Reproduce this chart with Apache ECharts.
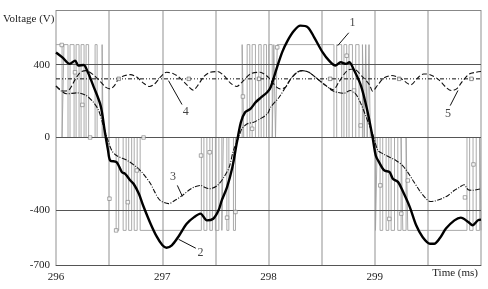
<!DOCTYPE html>
<html>
<head>
<meta charset="utf-8">
<script src="https://cdn.jsdelivr.net/npm/echarts@6/dist/echarts.min.js"></script>
<style>html,body{margin:0;padding:0;background:#fff}#c{width:488px;height:289px}</style>
</head>
<body>
<div id="c"></div>
<script>
// ---- data ----
const xTickLabels = ['296', '297', '298', '299'];
const yTickLabels = ['400', '0', '-400', '-700'];
const gridLevels = [400, 0, -400];

// curve 2 : thick solid line
const curve2 = [[296.00,467],[296.06,440],[296.13,404],[296.18,422],[296.21,395],[296.26,398],[296.30,358],[296.35,285],[296.42,175],[296.46,30],[296.49,-71],[296.51,-126],[296.57,-135],[296.62,-190],[296.65,-199],[296.70,-236],[296.73,-254],[296.78,-309],[296.82,-373],[296.89,-473],[296.95,-546],[297.00,-590],[297.04,-605],[297.09,-592],[297.15,-546],[297.23,-473],[297.30,-437],[297.36,-418],[297.42,-455],[297.48,-446],[297.53,-400],[297.56,-345],[297.61,-272],[297.66,-163],[297.70,-35],[297.74,84],[297.78,139],[297.83,157],[297.88,194],[297.92,215],[297.99,250],[298.02,276],[298.08,385],[298.13,470],[298.18,532],[298.24,586],[298.30,614],[298.37,605],[298.43,550],[298.51,467],[298.57,422],[298.63,395],[298.68,413],[298.73,404],[298.76,413],[298.80,376],[298.87,285],[298.93,148],[298.98,0],[299.01,-100],[299.04,-135],[299.09,-181],[299.14,-190],[299.17,-226],[299.22,-245],[299.26,-290],[299.33,-382],[299.39,-482],[299.45,-546],[299.52,-583],[299.56,-583],[299.61,-555],[299.67,-500],[299.75,-455],[299.81,-440],[299.88,-464],[299.92,-482],[299.97,-455],[300.00,-451]];

// curve 3 : thin dash-dot line
const curve3 = [[296.00,282],[296.05,255],[296.10,240],[296.20,245],[296.28,232],[296.35,195],[296.40,150],[296.44,75],[296.48,0],[296.525,-71],[296.57,-99],[296.67,-126],[296.76,-163],[296.82,-199],[296.89,-254],[296.93,-300],[296.98,-345],[297.06,-363],[297.12,-345],[297.19,-318],[297.25,-290],[297.30,-272],[297.36,-263],[297.41,-276],[297.45,-281],[297.52,-263],[297.58,-218],[297.63,-163],[297.67,-71],[297.72,2],[297.75,48],[297.80,75],[297.86,84],[297.92,102],[297.99,130],[298.02,166],[298.10,221],[298.16,276],[298.21,322],[298.27,358],[298.32,367],[298.38,358],[298.46,322],[298.54,285],[298.60,258],[298.65,248],[298.71,243],[298.77,258],[298.82,239],[298.87,185],[298.92,111],[298.98,20],[299.03,-71],[299.08,-90],[299.14,-108],[299.20,-126],[299.26,-153],[299.31,-190],[299.36,-236],[299.42,-290],[299.47,-327],[299.52,-351],[299.56,-349],[299.63,-336],[299.69,-318],[299.75,-290],[299.80,-272],[299.84,-259],[299.88,-287],[299.92,-290],[299.99,-283]];

// curve 4 : dashed line
const curve4 = [[296.00,283],[296.07,255],[296.12,260],[296.18,318],[296.23,358],[296.28,367],[296.35,345],[296.42,305],[296.47,275],[296.51,267],[296.55,285],[296.59,322],[296.65,340],[296.70,345],[296.76,332],[296.82,300],[296.88,280],[296.93,295],[296.98,330],[297.04,358],[297.10,352],[297.16,330],[297.23,290],[297.29,260],[297.34,290],[297.39,334],[297.45,358],[297.52,362],[297.58,340],[297.64,300],[297.70,280],[297.75,303],[297.83,349],[297.92,358],[298.00,330],[298.04,300],[298.08,275],[298.11,267],[298.16,276],[298.21,322],[298.27,358],[298.32,367],[298.38,358],[298.46,322],[298.54,285],[298.61,262],[298.66,303],[298.74,367],[298.80,376],[298.89,330],[298.95,290],[298.98,254],[299.03,290],[299.09,328],[299.16,340],[299.25,322],[299.30,300],[299.34,289],[299.40,325],[299.46,349],[299.52,345],[299.60,318],[299.67,276],[299.72,258],[299.77,267],[299.83,312],[299.89,349],[299.95,358],[300.00,362]];

// line 5 : dash-dot-dot reference level with square markers
const line5Level = 322;
const line5Markers = [296.59, 297.25, 297.91, 298.58, 299.23, 299.91];

// curve 1 : PWM voltage, switching instants (ms) and level after each switch (V)
const pwmTimes = [296.000,296.057,296.075,296.113,296.132,296.170,296.189,296.217,296.236,296.264,296.283,296.307,296.368,296.387,296.434,296.443,
  296.566,296.590,296.632,296.660,296.684,296.712,296.736,296.764,296.792,297.368,297.392,297.420,297.448,297.472,297.500,297.533,297.561,297.575,297.608,297.627,297.670,297.689,
  297.752,297.767,297.799,297.824,297.846,297.877,297.908,297.931,297.956,297.981,298.003,298.035,298.050,298.066,298.082,298.616,298.642,298.689,298.710,298.736,298.758,298.790,298.821,298.852,298.884,298.901,298.915,298.929,298.946,298.958,
  299.007,299.024,299.050,299.075,299.107,299.132,299.154,299.186,299.217,299.248,299.264,299.295,299.311,299.868,299.893,299.925,299.955,299.988,300.000];
const pwmLevels = [510,0,510,0,510,0,510,0,510,0,510,0,510,0,510,0,
  -510,0,-510,0,-510,0,-510,0,-510,0,-510,0,-510,0,-510,0,-510,0,-510,0,-510,0,
  510,0,510,0,510,0,510,0,510,0,510,0,510,0,510,0,510,0,510,0,510,0,510,0,510,0,510,0,510,0,
  -510,0,-510,0,-510,0,-510,0,-510,0,-510,0,-510,0,-510,0,-510,0,-510];
const pwmMarkers = [[296.054,508],[296.179,358],[296.248,179],[296.321,0],[296.824,0],[296.503,-336],[296.566,-510],[296.676,-355],[296.761,-181],[297.365,-99],[297.446,-81],[297.610,-440],[297.689,-409],[297.759,225],[297.846,48],[298.082,495],[298.736,449],[298.805,258],[298.868,66],[299.052,-263],[299.137,-447],[299.250,-418],[299.311,-236],[299.929,-148],[299.849,-329]];

// curve number labels and their leader lines
const labelTexts = ['1', '2', '3', '4', '5'];
const labelPos = [[298.79,630],[297.36,-632],[297.10,-218],[297.22,140],[299.69,130]];
const leaderFrom = [[298.755,575],[297.316,-608],[297.142,-263],[297.186,181],[299.710,175]];
const leaderTo = [[298.651,504],[297.154,-559],[297.189,-323],[297.059,312],[299.783,258]];

// ---- chart ----
const serif = 'Liberation Serif';
const pwmData = pwmTimes.map((t, i) => [t, pwmLevels[i]]);
const chart = echarts.init(document.getElementById('c'), null, {renderer: 'canvas'});
chart.setOption({
  animation: false,
  backgroundColor: '#fff',
  grid: {left: 56, right: 7, top: 10, bottom: 24, containLabel: false},
  xAxis: {
    type: 'value', min: 296, max: 300, interval: 0.5,
    axisLine: {onZero: false, lineStyle: {color: '#555', width: 1}},
    axisTick: {show: false},
    axisLabel: {
      color: '#222', fontFamily: serif, fontSize: 11, margin: 7,
      formatter: v => { const s = String(Math.round(v)); return (Math.abs(v - Math.round(v)) < 1e-6 && xTickLabels.includes(s)) ? s : ''; }
    },
    splitLine: {show: true, lineStyle: {color: '#c8c8c8', width: 2}}
  },
  yAxis: {
    type: 'value', min: -700, max: 700, interval: 100,
    axisLine: {show: false},
    axisTick: {show: false},
    axisLabel: {
      color: '#222', fontFamily: serif, fontSize: 11, margin: 6,
      formatter: v => yTickLabels.includes(String(v)) ? String(v) : ''
    },
    splitLine: {show: false}
  },
  graphic: [
    {type: 'text', left: 3, top: 14, style: {text: 'Voltage (V)', fill: '#222', font: '11px "Liberation Serif"'}},
    {type: 'text', right: 10, top: 268, style: {text: 'Time (ms)', fill: '#222', font: '11px "Liberation Serif"'}}
  ],
  series: [
    {
      name: 'grid', type: 'line', data: [], silent: true,
      markLine: {
        silent: true, symbol: 'none', label: {show: false},
        data: gridLevels.map(v => ({yAxis: v, lineStyle: {color: '#555', width: 1, type: 'solid'}}))
          .concat([{yAxis: 700, lineStyle: {color: '#888', width: 1, type: 'solid'}}])
      }
    },
    {
      name: 'PWM', type: 'line', step: 'end', data: pwmData, showSymbol: false,
      lineStyle: {color: '#a0a0a0', width: 0.9}, z: 2
    },
    {
      name: 'PWM markers', type: 'scatter', data: pwmMarkers, symbol: 'rect', symbolSize: 3.5,
      itemStyle: {color: '#fff', borderColor: '#777', borderWidth: 0.8}, z: 6
    },
    {
      name: 'line5', type: 'line', data: [[296, line5Level], [300, line5Level]], showSymbol: false,
      lineStyle: {color: '#111', width: 1, type: [4, 2, 1, 2, 1, 2]}, z: 3
    },
    {
      name: 'line5 markers', type: 'scatter', data: line5Markers.map(t => [t, line5Level]), symbol: 'rect', symbolSize: 3.5,
      itemStyle: {color: '#fff', borderColor: '#555', borderWidth: 0.8}, z: 6
    },
    {
      name: 'curve4', type: 'line', data: curve4, smooth: 0.3, showSymbol: false,
      lineStyle: {color: '#111', width: 1.1, type: [5, 2.5]}, z: 4
    },
    {
      name: 'curve3', type: 'line', data: curve3, smooth: 0.3, showSymbol: false,
      lineStyle: {color: '#111', width: 1.1, type: [5, 1.5, 1, 1.5]}, z: 4
    },
    {
      name: 'curve2', type: 'line', data: curve2, smooth: 0.3, showSymbol: false,
      lineStyle: {color: '#000', width: 2.4}, z: 5
    },
    {
      name: 'labels', type: 'scatter', symbolSize: 0,
      data: labelPos.map((p, i) => ({value: p, name: labelTexts[i]})),
      label: {show: true, position: 'inside', formatter: p => p.name, color: '#111', fontFamily: serif, fontSize: 12},
      markLine: {
        silent: true, symbol: 'none', label: {show: false},
        lineStyle: {color: '#111', width: 1, type: 'solid'},
        data: leaderFrom.map((f, i) => [{coord: f}, {coord: leaderTo[i]}])
      },
      z: 7
    }
  ]
});
</script>
</body>
</html>
